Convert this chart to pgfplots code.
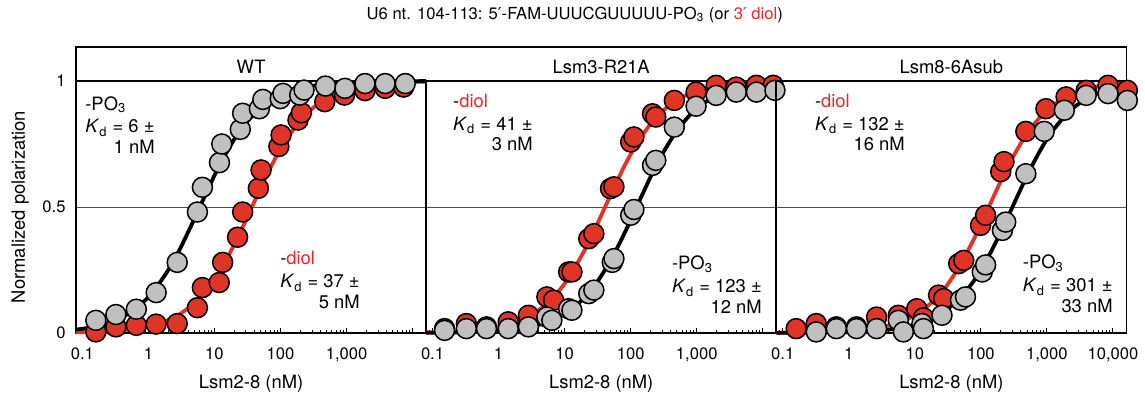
\documentclass[border=0pt]{standalone}
\usepackage{fontspec}
\setmainfont{TeX Gyre Heros}
\newfontfamily\symfont{DejaVu Sans}
\usepackage{pgfplots}
\pgfplotsset{compat=1.18}
\definecolor{myred}{RGB}{224,52,38}
\definecolor{mygray}{RGB}{192,192,192}
\definecolor{txtred}{RGB}{232,40,40}
\newcommand{\lab}{\fontsize{9.2}{11.5}\selectfont}
\newcommand{\Kd}{\textit{K}\textsubscript{d}}
\newcommand{\pr}{{\symfont ′}}
\pgfplotsset{
 mypanel/.style={
  scale only axis, width=175.15pt, height=126pt,
  xmin=0.08, xmax=16000, ymin=0, ymax=1,
  clip=false,
  axis line style={line width=0.9pt},
  xtick={0.1,1,10,100,1000,10000},
  minor xtick={0.09,0.2,0.3,0.4,0.5,0.6,0.7,0.8,0.9,2,3,4,5,6,7,8,9,20,30,40,50,60,70,80,90,200,300,400,500,600,700,800,900,2000,3000,4000,5000,6000,7000,8000,9000},
  xtick pos=left, tick align=inside,
  major tick length=2.6pt, minor tick length=1.6pt,
  tick style={black, line width=0.5pt},
  ytick={0,0.5,1}, ytick style={draw=none},
  ymajorgrids, grid style={black!70, line width=0.45pt},
  ticklabel style={font=\fontsize{8.3}{10}\selectfont},
  xticklabel style={yshift=-4pt},
  yticklabel style={xshift=-1.7pt},
  /pgf/number format/assume math mode=true,
  anchor=south west,
 },
 mydots/.style={only marks, mark=*, mark size=5pt, mark options={draw=black, line width=0.75pt, fill=#1}},
 myfit/.style={no marks, line width=1.9pt, color=#1, smooth},
}
\begin{document}
\begin{tikzpicture}
\path (0pt,0pt) rectangle (572.5pt,195pt);
% ---------------- WT
\begin{axis}[xmode=log, mypanel, at={(38pt,29.5pt)}, xticklabels={0.1,1,10,100,{1,000},{}}]
\addplot[myfit=myred] coordinates {(0.08,0.0022)(0.12,0.0032)(0.2,0.0054)(0.3,0.008)(0.5,0.0133)(0.8,0.0212)(1.2,0.0314)(2,0.0513)(3,0.075)(5,0.119)(8,0.178)(12,0.245)(20,0.351)(30,0.448)(50,0.575)(80,0.684)(120,0.764)(200,0.844)(300,0.890)(500,0.931)(800,0.956)(1200,0.970)(2000,0.982)(3000,0.9878)(5000,0.9927)(8000,0.9954)(16000,0.9977)};
\addplot[myfit=black] coordinates {(0.08,0.0132)(0.12,0.0196)(0.2,0.0323)(0.3,0.0476)(0.5,0.0769)(0.8,0.1176)(1.2,0.1667)(2,0.25)(3,0.3333)(5,0.4545)(8,0.5714)(12,0.6667)(20,0.7692)(30,0.8333)(50,0.8929)(80,0.9302)(120,0.9524)(200,0.9709)(300,0.9804)(500,0.9881)(800,0.9926)(1200,0.995)(2000,0.997)(3000,0.998)(5000,0.9988)(8000,0.9993)(16000,0.9996)};
\addplot[mydots=myred] coordinates {(0.16,0.004)(0.322,0.024)(0.656,0.03)(1.31,0.035)(2.73,0.037)(5.52,0.10)(6.57,0.18)(11.8,0.20)(13.3,0.28)(22.4,0.38)(26.7,0.48)(46.2,0.574)(50.8,0.647)(94.4,0.74)(102,0.786)(184,0.845)(207,0.874)(468,0.918)(930,0.944)(1900,0.962)(3840,0.971)(7311,0.976)};
\addplot[mydots=mygray] coordinates {(0.16,0.05)(0.322,0.073)(0.656,0.094)(1.31,0.16)(2.73,0.28)(5.52,0.48)(6.57,0.578)(11.9,0.676)(12.9,0.75)(24.6,0.808)(26.7,0.872)(47.9,0.89)(54,0.927)(98.9,0.93)(109,0.951)(195,0.944)(227,0.964)(480,0.98)(944,0.971)(1900,0.99)(3840,0.99)(7740,0.99)};
\end{axis}
% ---------------- Lsm3-R21A
\begin{axis}[xmode=log, mypanel, at={(213.165pt,29.5pt)}, xticklabels={0.1,1,10,100,{1,000},{}}, yticklabels={,,}]
\addplot[myfit=myred] coordinates {(0.08,0.002)(0.12,0.0029)(0.2,0.0049)(0.3,0.0073)(0.5,0.012)(0.8,0.0191)(1.2,0.0284)(2,0.0488)(3,0.0682)(5,0.1087)(8,0.1633)(12,0.2264)(20,0.3279)(30,0.4225)(50,0.5495)(80,0.6612)(120,0.7453)(200,0.8299)(300,0.8798)(500,0.9242)(800,0.9512)(1200,0.967)(2000,0.9799)(3000,0.9865)(5000,0.9919)(8000,0.9949)(16000,0.9974)};
\addplot[myfit=black] coordinates {(0.08,0.0007)(0.12,0.001)(0.2,0.0016)(0.3,0.0024)(0.5,0.004)(0.8,0.0065)(1.2,0.0097)(2,0.016)(3,0.0238)(5,0.0391)(8,0.0611)(12,0.0889)(20,0.1399)(30,0.1961)(50,0.289)(80,0.3941)(120,0.4938)(200,0.6192)(300,0.7092)(500,0.8026)(800,0.8667)(1200,0.9071)(2000,0.9421)(3000,0.9606)(5000,0.976)(8000,0.9849)(16000,0.9924)};
\addplot[mydots=myred] coordinates {(0.152,0.017)(0.325,0.037)(0.656,0.024)(1.40,0.044)(2.83,0.07)(5.38,0.143)(6.81,0.13)(11.5,0.242)(12.9,0.242)(23.2,0.374)(27.7,0.394)(49.5,0.573)(55.8,0.58)(100,0.758)(112,0.778)(214,0.87)(240,0.857)(458,0.923)(977,0.956)(1968,0.983)(3972,0.976)(8017,0.983)(14390,0.983)};
\addplot[mydots=mygray] coordinates {(0.152,0.01)(0.325,0.017)(0.656,0.017)(1.40,0.017)(2.83,0.024)(5.38,0.063)(6.41,0.05)(11.5,0.096)(12.9,0.09)(23.2,0.156)(27.7,0.17)(52.6,0.28)(55.8,0.295)(100,0.467)(112,0.49)(214,0.665)(240,0.685)(458,0.817)(977,0.90)(1968,0.943)(3972,0.956)(8017,0.956)(15280,0.963)};
\end{axis}
% ---------------- Lsm8-6Asub
\begin{axis}[xmode=log, mypanel, at={(388.335pt,29.5pt)}, xticklabels={0.1,1,10,100,{1,000},{10,000}}, yticklabels={,,}]
\addplot[myfit=myred] coordinates {(0.08,0.0006)(0.12,0.0009)(0.2,0.0015)(0.3,0.0023)(0.5,0.0038)(0.8,0.006)(1.2,0.009)(2,0.0149)(3,0.0222)(5,0.0365)(8,0.0571)(12,0.0833)(20,0.1316)(30,0.1852)(50,0.2747)(80,0.3774)(120,0.4762)(200,0.6024)(300,0.6944)(500,0.7911)(800,0.8584)(1200,0.9009)(2000,0.9381)(3000,0.9579)(5000,0.9743)(8000,0.9838)(16000,0.9918)};
\addplot[myfit=black] coordinates {(0.08,0.0003)(0.12,0.0004)(0.2,0.0007)(0.3,0.001)(0.5,0.0017)(0.8,0.0027)(1.2,0.004)(2,0.0066)(3,0.0099)(5,0.0163)(8,0.0259)(12,0.0383)(20,0.0623)(30,0.0907)(50,0.1425)(80,0.21)(120,0.2851)(200,0.3992)(300,0.4992)(500,0.6242)(800,0.7266)(1200,0.7995)(2000,0.8692)(3000,0.9088)(5000,0.9432)(8000,0.9637)(16000,0.9815)};
\addplot[mydots=myred] coordinates {(0.16,0.017)(0.322,0.037)(0.649,0.024)(1.31,0.024)(2.64,0.063)(5.63,0.07)(10.7,0.096)(13.5,0.06)(22.9,0.15)(27.3,0.136)(46.2,0.275)(55.1,0.288)(98.9,0.427)(118,0.467)(200,0.64)(224,0.68)(480,0.80)(966,0.89)(1950,0.937)(3936,0.963)(8414,0.983)(16500,0.963)};
\addplot[mydots=mygray] coordinates {(0.322,0.004)(0.649,0.017)(1.31,0.017)(2.64,0.017)(5.63,0.05)(6.71,0.004)(12.8,0.037)(13.5,0.017)(25.8,0.07)(49.1,0.13)(58.5,0.143)(105,0.242)(118,0.27)(212,0.407)(238,0.44)(480,0.632)(910,0.80)(1837,0.884)(3936,0.943)(8414,0.95)(16500,0.923)};
\end{axis}
% strip and labels
\draw[line width=0.9pt] (38pt,155.5pt) -- (38pt,172.5pt) -- (563.5pt,172.5pt) -- (563.5pt,155.5pt);
\node[anchor=base, font=\lab] at (125.6pt,159.5pt) {WT};
\node[anchor=base, font=\lab] at (300.75pt,159.5pt) {Lsm3-R21A};
\node[anchor=base, font=\lab] at (475.9pt,159.5pt) {Lsm8-6Asub};
\node[anchor=base, font=\fontsize{8.3}{10}\selectfont] at (287.5pt,186.5pt) {U6 nt. 104-113: 5\pr-FAM-UUUCGUUUUU-PO\textsubscript{3} (or \textcolor{txtred}{3\pr\ diol})};
\node[rotate=90, anchor=base, font=\lab] at (12.5pt,92.5pt) {Normalized polarization};
\node[anchor=base, font=\lab] at (125.6pt,1.75pt) {Lsm2-8 (nM)};
\node[anchor=base, font=\lab] at (300.75pt,1.75pt) {Lsm2-8 (nM)};
\node[anchor=base, font=\lab] at (475.9pt,1.75pt) {Lsm2-8 (nM)};
% Kd annotations
\node[anchor=base west, font=\lab, inner sep=0pt] at (42.5pt,141pt) {\begin{tabular}[t]{@{}l@{}}-PO\textsubscript{3}\\ \Kd{} = 6 ±\\[-1pt] \hfill 1 nM\end{tabular}};
\node[anchor=base west, font=\lab, inner sep=0pt] at (140pt,63.5pt) {\begin{tabular}[t]{@{}l@{}}-\textcolor{txtred}{diol}\\ \Kd{} = 37 ±\\[-1pt] \hfill 5 nM\end{tabular}};
\node[anchor=base west, font=\lab, inner sep=0pt] at (226.5pt,142.5pt) {\begin{tabular}[t]{@{}l@{}}-\textcolor{txtred}{diol}\\ \Kd{} = 41 ±\\[-1pt] \hfill 3 nM\end{tabular}};
\node[anchor=base west, font=\lab, inner sep=0pt] at (336pt,61pt) {\begin{tabular}[t]{@{}l@{}}-PO\textsubscript{3}\\ \Kd{} = 123 ±\\[-1pt] \hfill 12 nM\end{tabular}};
\node[anchor=base west, font=\lab, inner sep=0pt] at (407.5pt,142.5pt) {\begin{tabular}[t]{@{}l@{}}-\textcolor{txtred}{diol}\\ \Kd{} = 132 ±\\[-1pt] \hfill 16 nM\end{tabular}};
\node[anchor=base west, font=\lab, inner sep=0pt] at (511.5pt,61.5pt) {\begin{tabular}[t]{@{}l@{}}-PO\textsubscript{3}\\ \Kd{} = 301 ±\\[-1pt] \hfill 33 nM\end{tabular}};
\end{tikzpicture}
\end{document}
